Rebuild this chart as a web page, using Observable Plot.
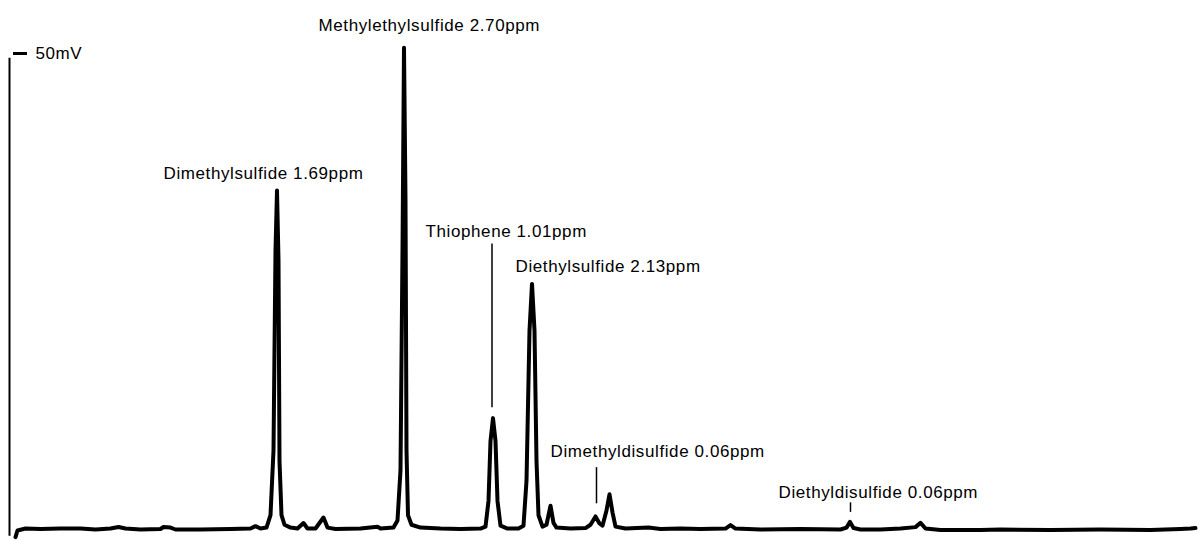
<!DOCTYPE html>
<html>
<head>
<meta charset="utf-8">
<script src="https://cdn.jsdelivr.net/npm/d3@7"></script>
<script src="https://cdn.jsdelivr.net/npm/@observablehq/plot@0.6"></script>
<style>
  html, body { margin: 0; padding: 0; background: #fff; }
  svg { display: block; }
</style>
</head>
<body>
<div id="chart"></div>
<script>
// Retention time (s) and detector signal (mV)
const retentionTime = [
  5, 7, 15, 30, 50, 70, 85, 100, 108, 115, 130, 150, 153, 160, 165, 190, 220, 240, 245, 250,
  256, 260, 263, 265, 266.5, 268, 269, 271, 274, 280, 287, 293, 297, 305, 313, 317, 325, 350, 367, 370,
  383, 387, 390, 392, 393.5, 395, 396, 397.5, 401, 410, 430, 450, 470, 475, 478, 480, 482.5, 485, 487, 490,
  497, 508, 513, 516, 519, 521.5, 524, 526, 528, 532, 536, 540, 543, 546, 560, 575, 580, 585, 589, 592,
  596, 599, 602, 605, 615, 638, 650, 670, 690, 715, 720, 725, 750, 790, 830, 836, 839.5, 843, 850, 870,
  890, 905, 910, 915, 930, 970, 990, 1040, 1090, 1140, 1170, 1180, 1185
];
const signal = [
  -0.8, -0.1, 0.1, 0.05, 0.1, 0.1, 0.0, 0.1, 0.26, 0.1, 0.0, 0.05, 0.26, 0.2, 0.0, 0.0, 0.05, 0.1, 0.35, 0.1,
  0.2, 1.5, 8.3, 29.3, 35.6, 28.3, 7.2, 1.5, 0.5, 0.2, 0.1, 0.68, 0.1, 0.1, 1.26, 0.2, 0.05, 0.1, 0.3, 0.1,
  0.2, 0.95, 6.2, 29.3, 50.6, 34.6, 8.3, 1.5, 0.5, 0.2, 0.1, 0.05, 0.1, 0.3, 3.0, 9.3, 11.7, 9.3, 3.0, 0.4,
  0.1, 0.1, 0.4, 5.1, 20.9, 25.8, 20.9, 7.2, 1.5, 0.3, 0.5, 2.5, 0.7, 0.2, 0.1, 0.15, 0.5, 1.37, 0.63, 0.4,
  2.0, 3.7, 1.8, 0.3, 0.1, 0.2, 0.05, 0.1, 0.05, 0.1, 0.47, 0.1, 0.0, 0.05, 0.0, 0.2, 0.8, 0.15, 0.0, 0.0,
  0.1, 0.25, 0.7, 0.1, -0.05, -0.05, 0.0, -0.05, 0.0, -0.05, 0.05, 0.1, 0.15
];

// Peak annotations
const compounds = ["Methylethylsulfide", "Dimethylsulfide", "Thiophene", "Diethylsulfide", "Dimethyldisulfide", "Diethyldisulfide"];
const concentrations = ["2.70ppm", "1.69ppm", "1.01ppm", "2.13ppm", "0.06ppm", "0.06ppm"];
const labelTime = [308, 153, 415, 505, 540, 768];
const labelSignal = [52.9, 37.4, 31.3, 27.6, 8.2, 3.9];

// Leader lines (retention time, from / to signal)
const leaderTime = [481.5, 586, 840];
const leaderTop = [30.0, 6.5, 2.8];
const leaderBottom = [12.8, 2.7, 1.8];

// Scale bar tick
const tickValues = [50];
const tickLabels = ["50mV"];

const trace = retentionTime.map((t, i) => ({t, v: signal[i]}));
const labels = compounds.map((c, i) => ({text: `${c} ${concentrations[i]}`, t: labelTime[i], v: labelSignal[i]}));
const leaders = leaderTime.map((t, i) => ({t, y1: leaderTop[i], y2: leaderBottom[i]}));
const ticks = tickValues.map((v, i) => ({v, label: tickLabels[i]}));

const font = "'Liberation Sans', Arial, Helvetica, sans-serif";

const chart = Plot.plot({
  width: 1201,
  height: 541,
  marginTop: 0, marginBottom: 0, marginLeft: 0, marginRight: 0,
  x: {domain: [-1, 1185], range: [9, 1195], axis: null},
  y: {domain: [0, 50], range: [529, 53], axis: null},
  style: {background: "#fff", fontFamily: font},
  marks: [
    // vertical axis line
    Plot.ruleX([-1], {y1: 49.5, y2: -0.7, stroke: "#000", strokeWidth: 2}),
    // scale tick and label
    Plot.ruleY(ticks, {y: "v", x1: 3, x2: 17, stroke: "#000", strokeWidth: 3}),
    Plot.text(ticks, {y: "v", x: 25, text: "label", textAnchor: "start", lineAnchor: "middle", fontSize: 17, fill: "#000", dy: 0}),
    // leader lines
    Plot.ruleX(leaders, {x: "t", y1: "y1", y2: "y2", stroke: "#000", strokeWidth: 1.5}),
    // trace
    Plot.line(trace, {x: "t", y: "v", stroke: "#000", strokeWidth: 4, strokeLinejoin: "round", strokeLinecap: "round", curve: "linear"}),
    // labels
    Plot.text(labels, {x: "t", y: "v", text: "text", textAnchor: "start", lineAnchor: "middle", fontSize: 17, fill: "#000"})
  ]
});
chart.querySelectorAll("text").forEach(el => el.style.letterSpacing = "0.6px");
document.getElementById("chart").appendChild(chart);
</script>
</body>
</html>
